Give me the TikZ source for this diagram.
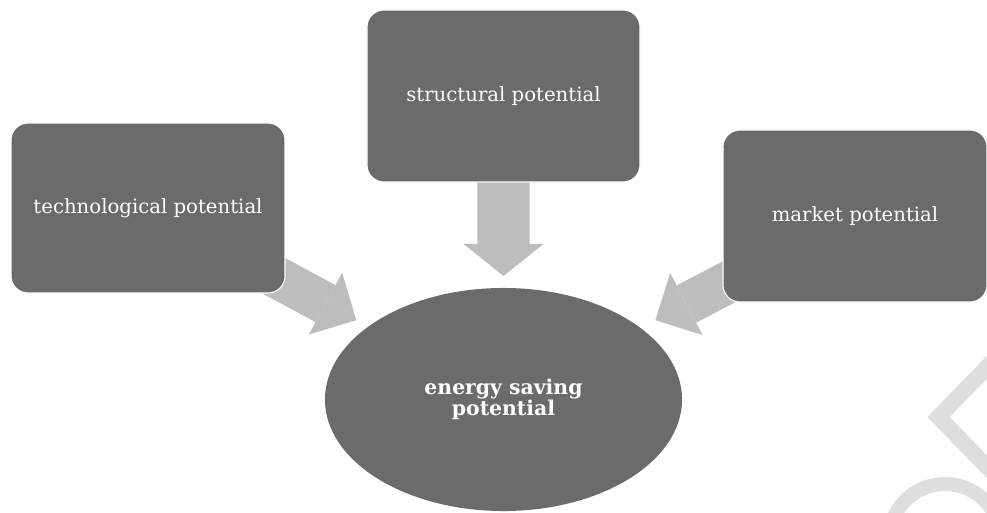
\documentclass[tikz,border=0pt]{standalone}
\usepackage{fontspec}
\setmainfont{DejaVu Serif}
\usetikzlibrary{arrows.meta,calc,shapes.geometric,backgrounds}

\definecolor{boxgray}{RGB}{107,107,107}
\definecolor{arrowgray}{RGB}{189,189,189}
\definecolor{markgray}{RGB}{222,222,222}

\tikzset{
  potbox/.style={draw=white, line width=0.8pt, fill=boxgray, rounded corners=0.425cm,
    text=white, font=\fontsize{14}{16}\selectfont},
  savingell/.style={ellipse, fill=boxgray, text=white, align=center,
    font=\bfseries\fontsize{14.5}{13.5}\selectfont},
  flow/.style={arrowgray, line width=1.05cm,
    -{Triangle[width=1.75cm,length=0.875cm,line width=0pt]}},
  flowdown/.style={arrowgray, line width=1.3cm,
    -{Triangle[width=2cm,length=0.8cm,line width=0pt]}},
  faintmark/.style={markgray, line width=0.4cm}
}

\begin{document}
\begin{tikzpicture}[x=0.025cm, y=-0.025cm]
    \useasboundingbox (0,0) rectangle (987,513);

    % the three potentials and the result
    \node[potbox, minimum width=6.85cm, minimum height=4.25cm] (tech) at (148,208) {technological potential};
    \node[potbox, minimum width=6.825cm, minimum height=4.3cm] (struct) at (503.5,96) {structural potential};
    \node[potbox, minimum width=6.6cm, minimum height=4.3cm] (market) at (855,216) {market potential};
    \node[savingell, minimum width=8.925cm, minimum height=5.575cm] (saving) at (503.5,399.5) {energy saving\\potential};

    % block arrows behind the boxes
    \begin{scope}[on background layer]
        \draw[flow] (tech.center) -- ($(tech.center)!0.586!(saving.center)$);
        \draw[flowdown] (struct.center) -- ($(struct.center)!0.593!(saving.center)$);
        \draw[flow] (market.center) -- ($(market.center)!0.568!(saving.center)$);
    \end{scope}

    % faint marks in the corner
    \begin{scope}
        \clip (0,0) rectangle (987,513);
        \draw[faintmark, miter limit=4] (995,359) -- (938.5,417) -- (995,475);
        \draw[markgray, line width=0.35cm] (945,540) circle[radius=56];
    \end{scope}
\end{tikzpicture}
\end{document}
